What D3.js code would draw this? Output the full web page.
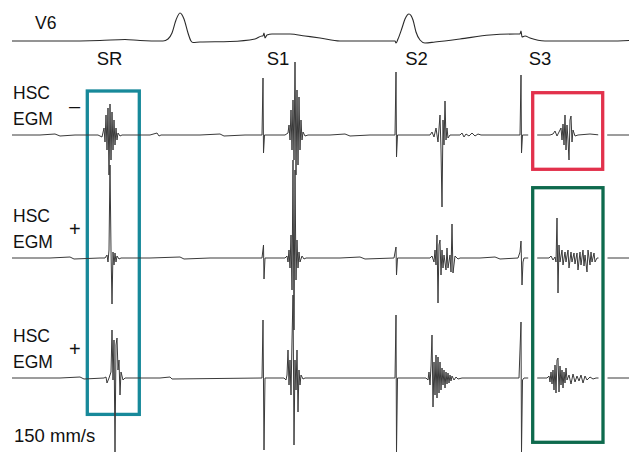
<!DOCTYPE html>
<html>
<head>
<meta charset="utf-8">
<script src="https://cdn.jsdelivr.net/npm/d3@7"></script>
<style>
  body { margin: 0; background: #fff; }
  svg { display: block; }
  text { font-family: "Liberation Sans", Arial, sans-serif; fill: #111; }
</style>
</head>
<body>
<svg id="chart" width="629" height="454"></svg>
<script>
// time in ms, amplitude in 0.01 mV (positive = up)
const v6Trace = [
  [0,0],[48,0],[88,0.5],[113,1.5],[128,0.5],[151,0],[156,2],[160,8],[164,21],[168,28],
  [172,22],[176,8],[179,0],[181,-1.5],[188,-1],[218,-0.5],[243,2],[250,5],[251,5],[252,8],
  [253,3],[255,6],[260,7],[278,7],[293,5],[308,3],[328,0],[383,0],[384,-2],[386,2],
  [390,13],[393,22],[397,27],[401,21],[404,9],[408,1],[413,-2],[423,-1],[448,2],[478,6],
  [503,7],[508,7],[509,10],[510,4],[513,5],[518,3],[533,0],[598,0],[617,0.5]
];

const egmMinus = [
  [0,0],[28,0],[43,1],[48,-1],[63,0],[86,0],
  [90,-2],[92,7],[93,-7],[94,20],[95,-15],[96,27],[97,-40],[98,31],[99,-25],[100,23],
  [101,-15],[102,15],[103,-10],[104,7],[105,-5],[106,2],[108,-1],[110,0],
  [138,0],[145,2],[147,-1],[149,0],[188,0],[208,1],[212,-1],[233,0],[250,0],
  [251,57],[251.5,-18],[252.5,0],[273,0],
  [276,2],[277,10],[278,-5],[279,25],[280,-15],[281,35],[282,-25],[283,73],[284,-40],
  [285,45],[286,-30],[287,38],[288,-15],[289,15],[290,-5],[291,3],[293,-1],[296,0],
  [318,0],[333,1],[338,-1],[358,0],[383,0],
  [384,63],[384.5,-22],[385.5,0],[418,0],
  [420,3],[422,-2],[424,7],[426,-7],[428,20],[429,-15],[430,-72],[431,15],[432,-10],
  [433,34],[434,-5],[435,7],[436,-3],[438,0],
  [448,0],[450,2],[452,-2],[454,1],[457,-1],[460,2],[463,-1],[466,1],[469,0],[488,0],[507,0],
  [508,0],[509,60],[509.5,-18],[510.5,0],[538,0],
  [541,1],[543,4],[545,-1],[547,3],[549,7],[550,-5],[551,11],[552,-10],[553,20],[554,-15],
  [555,10],[556,-5],[557,-25],[558,15],[559,19],[560,-7],[561,5],[563,-1],[566,0],
  [578,1],[588,0],[617,0]
];

const egmPlusA = [
  [0,0],[38,0],[58,1],[62,-1],[88,0],[93,0],
  [95,3],[96,-4],[97,8],[98,93],[99,8],[100,-46],[101,6],[102,-7],[103,5],[104,-4],
  [105,2],[107,-1],[109,0],
  [138,0],[168,1],[172,-1],[198,0],[228,0],[250,0],
  [251.5,13],[252,-21],[253,0],[271,0],
  [273,0],[275,2],[276,-4],[277,8],[278,-10],[279,23],[280,-32],[281,98],[282,-72],
  [283,88],[284,-22],[285,18],[286,-10],[287,6],[288,-4],[290,2],[292,-1],[294,0],
  [328,0],[348,1],[353,-1],[382,0],
  [384,11],[384.5,-17],[385.5,0],[418,0],
  [420,2],[422,-4],[423,8],[424,-7],[425,23],[426,-45],[427,13],[428,18],[429,-17],
  [430,8],[431,-10],[432,3],[434,-12],[435,10],[436,-10],[438,3],[439,-14],[440,34],
  [441,-15],[443,2],[446,-1],[448,0],[468,0],[483,1],[488,-1],[506,0],
  [508,6],[509,17],[510,-27],[511,-4],[512,0],[537,0],
  [539,2],[541,-2],[543,1],[544,-4],[545,40],[546,-35],[547,13],[548,-4],[550,8],
  [551,-7],[553,6],[554,-4],[556,8],[557,-10],[559,6],[560,-4],[562,5],[563,-6],
  [565,5],[566,-12],[568,6],[569,-7],[571,8],[572,-8],[573,3],[575,-14],[576,8],
  [578,-7],[579,6],[580,-4],[582,5],[583,-4],[585,0],[598,0],[617,0]
];

const egmPlusB = [
  [0,0],[48,0],[68,1],[72,-1],[92,0],
  [94,1],[95,-5],[97,0],[99,6],[100,48],[101,-2],[102,38],[103,-74],[104,33],[105,40],
  [106,8],[107,18],[108,-17],[109,6],[111,-2],[113,0],
  [148,0],[158,1],[160,-1],[250,0],
  [251,58],[252,-72],[253,0],[272,0],
  [274,-2],[275,3],[276,28],[277,-7],[278,18],[279,-17],[280,38],[281,83],[282,-67],
  [283,18],[284,-12],[285,28],[286,-34],[287,8],[288,-7],[289,3],[291,-1],[293,0],[383,0],
  [384,63],[384.5,-74],[385.5,0],[414,0],
  [416,-2],[417,6],[418,-7],[419,12],[420,43],[421,-29],[422,16],[423,-17],[424,23],
  [425,-20],[426,21],[427,-15],[428,16],[429,-12],[430,10],[431,-7],[432,8],[433,-10],
  [434,6],[435,-6],[436,5],[437,-5],[438,3],[439,-3],[440,2],[442,-2],[444,1],[446,-1],
  [450,0],[507,0],
  [509,56],[509.5,-74],[510.5,-2],[512,0],[534,0],
  [535,0],[537,2],[538,-4],[539,6],[540,-6],[541,8],[542,-12],[543,13],[544,-15],
  [545,18],[546,20],[547,-14],[548,12],[549,-7],[550,8],[551,-10],[552,6],[553,-5],
  [554,10],[555,-2],[557,3],[559,-6],[561,4],[563,-4],[565,2],[567,-3],[569,3],
  [571,-5],[573,2],[575,-2],[578,1],[581,-1],[584,0],[617,0]
];

const channelNames = ["HSC EGM", "HSC EGM", "HSC EGM"];
const channelPolarity = ["\u2013", "+", "+"];
const stimLabels = ["SR", "S1", "S2", "S3"];
const stimLabelTimes = [97.5, 266, 404.5, 528];

// boxes: time window, top (channel, amplitude), bottom (channel, amplitude)
const boxNames = ["sr", "s3Minus", "s3Plus"];
const boxTimes = [[75.3, 127.3], [520.7, 590.7], [520.7, 591]];
const boxTops = [[0, 44], [0, 42.3], [1, 70.3]];
const boxBottoms = [[2, -36.4], [0, -34.3], [2, -64.3]];

const boxColor = { sr: "#17899a", s3Minus: "#e2314c", s3Plus: "#0e6a4d" };

const svg = d3.select("#chart");
const x = d3.scaleLinear().domain([0, 617]).range([12, 629]);

const ampScale = (base) => d3.scaleLinear().domain([-100, 100]).range([base + 100, base - 100]);
const yV6 = ampScale(41);
const yCh = [135, 258, 378].map(ampScale);

const drawBox = (i, halo) => {
  const [t0, t1] = boxTimes[i];
  const [c0, a0] = boxTops[i];
  const [c1, a1] = boxBottoms[i];
  const r = {
    x: x(t0), y: yCh[c0](a0),
    w: x(t1) - x(t0), h: yCh[c1](a1) - yCh[c0](a0)
  };
  if (halo) {
    svg.append("rect")
      .attr("x", r.x).attr("y", r.y).attr("width", r.w).attr("height", r.h)
      .attr("fill", "none").attr("stroke", "#fff").attr("stroke-width", 9);
  }
  svg.append("rect")
    .attr("x", r.x).attr("y", r.y).attr("width", r.w).attr("height", r.h)
    .attr("fill", "none")
    .attr("stroke", boxColor[boxNames[i]])
    .attr("stroke-width", 3.3);
};

// SR box sits under the traces
drawBox(0, false);

svg.append("path")
  .datum(v6Trace)
  .attr("fill", "none")
  .attr("stroke", "#2a2a2a")
  .attr("stroke-width", 1.1)
  .attr("d", d3.line().x(d => x(d[0])).y(d => yV6(d[1])).curve(d3.curveMonotoneX));

[egmMinus, egmPlusA, egmPlusB].forEach((trace, i) => {
  svg.append("path")
    .datum(trace)
    .attr("fill", "none")
    .attr("stroke", "#3a3a3a")
    .attr("stroke-width", 1)
    .attr("stroke-linejoin", "round")
    .attr("d", d3.line().x(d => x(d[0])).y(d => yCh[i](d[1])));
});

drawBox(1, true);
drawBox(2, true);

// labels
svg.append("text").attr("x", 35).attr("y", 29).attr("font-size", 17.5).text("V6");

svg.selectAll(".stim")
  .data(stimLabels)
  .join("text")
  .attr("class", "stim")
  .attr("x", (d, i) => x(stimLabelTimes[i]))
  .attr("y", 64.5)
  .attr("text-anchor", "middle")
  .attr("font-size", 18.5)
  .text(d => d);

channelNames.forEach((name, i) => {
  const base = yCh[i](0);
  const [l1, l2] = name.split(" ");
  svg.append("text").attr("x", 13).attr("y", base - 36).attr("font-size", 17.5).text(l1);
  svg.append("text").attr("x", 13).attr("y", base - 10.5).attr("font-size", 17.5).text(l2);
  svg.append("text")
    .attr("x", 69)
    .attr("y", base - 22)
    .attr("font-size", 20)
    .text(channelPolarity[i]);
});

svg.append("text").attr("x", 14).attr("y", 442).attr("font-size", 18.5).text("150 mm/s");
</script>
</body>
</html>
